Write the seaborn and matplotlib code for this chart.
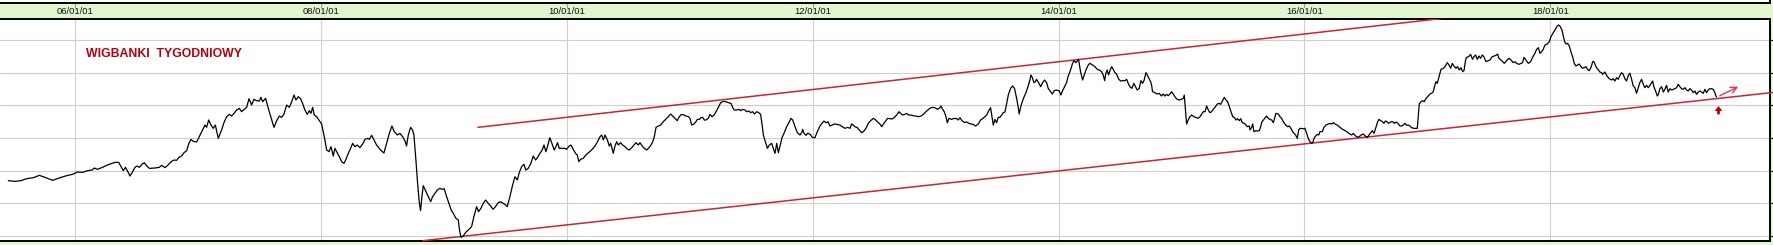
import matplotlib
matplotlib.use("Agg")
import matplotlib.pyplot as plt
import seaborn as sns
import pandas as pd
from matplotlib.lines import Line2D
from matplotlib.patches import Rectangle

# ---------------- data ----------------
years = [
    2005.454, 2005.508, 2005.554, 2005.603, 2005.657, 2005.706, 2005.752, 2005.815, 2005.874, 2005.928,
    2005.977, 2006.015, 2006.059, 2006.097, 2006.135, 2006.154, 2006.178, 2006.213, 2006.248, 2006.276,
    2006.297, 2006.322, 2006.352, 2006.368, 2006.389, 2006.406, 2006.422, 2006.444, 2006.465, 2006.484,
    2006.503, 2006.520, 2006.541, 2006.560, 2006.579, 2006.601, 2006.647, 2006.682, 2006.701, 2006.729,
    2006.756, 2006.783, 2006.802, 2006.823, 2006.842, 2006.864, 2006.883, 2006.905, 2006.921, 2006.940,
    2006.959, 2006.986,
    2007.054, 2007.067, 2007.084, 2007.103, 2007.121, 2007.138, 2007.162, 2007.189, 2007.208, 2007.230,
    2007.252, 2007.271, 2007.290, 2007.311, 2007.333, 2007.352, 2007.374, 2007.393, 2007.412, 2007.433,
    2007.452, 2007.474, 2007.496, 2007.509, 2007.523, 2007.547, 2007.569, 2007.591, 2007.615, 2007.637,
    2007.659, 2007.677, 2007.696, 2007.718, 2007.740, 2007.759, 2007.778, 2007.794, 2007.813, 2007.832,
    2007.848, 2007.867, 2007.886, 2007.903, 2007.916, 2007.930, 2007.943, 2007.962, 2007.981, 2008.003,
    2008.016, 2008.030, 2008.044, 2008.063, 2008.079, 2008.098, 2008.111, 2008.130, 2008.147, 2008.166,
    2008.185, 2008.201, 2008.220, 2008.239, 2008.255, 2008.274, 2008.293, 2008.315, 2008.337, 2008.356,
    2008.377, 2008.391, 2008.410, 2008.429, 2008.450, 2008.472, 2008.491, 2008.510, 2008.532, 2008.554,
    2008.575, 2008.594, 2008.619,
    2008.640, 2008.662, 2008.681, 2008.694, 2008.708, 2008.727, 2008.743, 2008.754, 2008.770, 2008.784,
    2008.797, 2008.808, 2008.819, 2008.830, 2008.849, 2008.871, 2008.890, 2008.906, 2008.925, 2008.944,
    2008.965, 2008.984, 2009.001, 2009.020, 2009.039, 2009.055, 2009.074, 2009.096, 2009.115, 2009.123,
    2009.136, 2009.155, 2009.177, 2009.196, 2009.223, 2009.242, 2009.264, 2009.280, 2009.299, 2009.318,
    2009.337, 2009.359, 2009.378, 2009.399, 2009.421, 2009.440, 2009.459, 2009.481, 2009.502, 2009.513,
    2009.535, 2009.557, 2009.576, 2009.595, 2009.611, 2009.630, 2009.649, 2009.665, 2009.684, 2009.703,
    2009.725, 2009.744, 2009.760, 2009.779, 2009.798, 2009.812, 2009.828, 2009.842, 2009.860, 2009.879,
    2009.896, 2009.909, 2009.923, 2009.936, 2009.958, 2009.983, 2009.996, 2010.018, 2010.031, 2010.050,
    2010.069, 2010.083, 2010.096, 2010.110, 2010.132, 2010.153, 2010.175, 2010.200, 2010.227, 2010.248,
    2010.268, 2010.282, 2010.295, 2010.309, 2010.328, 2010.344, 2010.355, 2010.366, 2010.376, 2010.390,
    2010.404, 2010.417, 2010.436, 2010.452, 2010.471, 2010.490, 2010.507, 2010.526, 2010.545, 2010.561,
    2010.580, 2010.593, 2010.612, 2010.629, 2010.648, 2010.667, 2010.683, 2010.697, 2010.710, 2010.724,
    2010.743, 2010.762, 2010.783, 2010.802, 2010.824, 2010.843, 2010.859, 2010.878, 2010.897, 2010.913,
    2010.927, 2010.946, 2010.968, 2010.987, 2011.000, 2011.014, 2011.033, 2011.049, 2011.060, 2011.076,
    2011.090, 2011.103, 2011.117, 2011.130, 2011.149, 2011.163, 2011.179, 2011.196, 2011.212, 2011.231,
    2011.250, 2011.272, 2011.293, 2011.312, 2011.334, 2011.347, 2011.361, 2011.380, 2011.399, 2011.413,
    2011.429, 2011.448, 2011.461, 2011.480, 2011.494, 2011.510, 2011.524, 2011.543, 2011.559, 2011.575,
    2011.589, 2011.597, 2011.611, 2011.630, 2011.646, 2011.665, 2011.678, 2011.692, 2011.706, 2011.719,
    2011.733, 2011.749, 2011.765, 2011.787, 2011.809, 2011.822, 2011.836, 2011.855, 2011.874,
    2011.895, 2011.909, 2011.917, 2011.928, 2011.944, 2011.957, 2011.976, 2011.995, 2012.017, 2012.036,
    2012.058, 2012.074, 2012.090, 2012.107, 2012.123, 2012.139, 2012.158, 2012.174, 2012.193, 2012.220,
    2012.239, 2012.261, 2012.283, 2012.302, 2012.315, 2012.329, 2012.342, 2012.362, 2012.378, 2012.397,
    2012.416, 2012.432, 2012.451, 2012.470, 2012.492, 2012.511, 2012.527, 2012.546, 2012.560, 2012.578,
    2012.595, 2012.608, 2012.627, 2012.646, 2012.663, 2012.682, 2012.701, 2012.714, 2012.730, 2012.749,
    2012.763, 2012.779, 2012.798, 2012.817, 2012.836, 2012.858, 2012.880, 2012.899, 2012.920, 2012.942,
    2012.961, 2012.980, 2012.999, 2013.015, 2013.029, 2013.042, 2013.056, 2013.069, 2013.083, 2013.094,
    2013.107, 2013.129, 2013.151, 2013.170, 2013.183, 2013.197, 2013.216, 2013.232, 2013.251, 2013.270,
    2013.286, 2013.305, 2013.324, 2013.346, 2013.365, 2013.381, 2013.400, 2013.414, 2013.427, 2013.446,
    2013.457, 2013.468, 2013.482, 2013.495, 2013.509,
    2013.522, 2013.536, 2013.549, 2013.563, 2013.571, 2013.590, 2013.609, 2013.625, 2013.641, 2013.658,
    2013.671, 2013.679, 2013.690, 2013.704, 2013.717, 2013.734, 2013.750, 2013.766, 2013.774, 2013.785,
    2013.799, 2013.810, 2013.820, 2013.837, 2013.853, 2013.869, 2013.885, 2013.902, 2013.915, 2013.929,
    2013.948, 2013.964, 2013.983, 2014.005, 2014.018, 2014.032, 2014.051, 2014.064, 2014.078, 2014.097,
    2014.113, 2014.124, 2014.140, 2014.154, 2014.162, 2014.178, 2014.195, 2014.208, 2014.222, 2014.241,
    2014.254, 2014.276, 2014.295, 2014.314, 2014.330, 2014.349, 2014.363, 2014.374, 2014.384, 2014.395,
    2014.406, 2014.417, 2014.431, 2014.444, 2014.458, 2014.471, 2014.488, 2014.504, 2014.520, 2014.539,
    2014.553, 2014.566, 2014.580, 2014.596, 2014.612, 2014.626, 2014.639, 2014.656, 2014.669, 2014.683,
    2014.696, 2014.710, 2014.721, 2014.734, 2014.748, 2014.756, 2014.764, 2014.783, 2014.802, 2014.818,
    2014.837, 2014.851, 2014.865, 2014.878, 2014.892, 2014.905, 2014.919, 2014.932, 2014.949, 2014.965,
    2014.981, 2015.000, 2015.014, 2015.022, 2015.030, 2015.041, 2015.054, 2015.068, 2015.082, 2015.100,
    2015.122, 2015.136,
    2015.150, 2015.164, 2015.177, 2015.191, 2015.204, 2015.218, 2015.231, 2015.245, 2015.258, 2015.272,
    2015.291, 2015.307, 2015.318, 2015.334, 2015.348, 2015.362, 2015.375, 2015.389, 2015.402, 2015.416,
    2015.429, 2015.443, 2015.456, 2015.470, 2015.481, 2015.494, 2015.511, 2015.524, 2015.535, 2015.551,
    2015.557, 2015.570, 2015.579, 2015.589, 2015.606, 2015.619, 2015.633, 2015.644, 2015.654, 2015.671,
    2015.682, 2015.692, 2015.706, 2015.720, 2015.733, 2015.747, 2015.760, 2015.768, 2015.787, 2015.801,
    2015.814, 2015.828, 2015.847, 2015.863, 2015.877, 2015.890, 2015.904, 2015.915, 2015.928, 2015.942,
    2015.953, 2015.964, 2015.991, 2016.004, 2016.018, 2016.031, 2016.045, 2016.059, 2016.067, 2016.078,
    2016.091, 2016.105, 2016.116, 2016.126, 2016.145, 2016.159, 2016.175, 2016.194, 2016.208, 2016.221,
    2016.235, 2016.248, 2016.267, 2016.289, 2016.311, 2016.332, 2016.351, 2016.370, 2016.384, 2016.398,
    2016.417, 2016.433, 2016.452, 2016.465, 2016.479, 2016.495, 2016.512, 2016.525, 2016.539, 2016.552,
    2016.566, 2016.579, 2016.596, 2016.606, 2016.620, 2016.634, 2016.647, 2016.658, 2016.672, 2016.685,
    2016.701, 2016.718, 2016.731, 2016.745, 2016.761,
    2016.777, 2016.791, 2016.804, 2016.818, 2016.831, 2016.845, 2016.858, 2016.872, 2016.891, 2016.918,
    2016.926, 2016.934, 2016.948, 2016.961, 2016.975, 2016.989, 2017.008, 2017.021, 2017.035, 2017.048,
    2017.059, 2017.070, 2017.081, 2017.092, 2017.102, 2017.111, 2017.130, 2017.143, 2017.162, 2017.176,
    2017.189, 2017.203, 2017.216, 2017.233, 2017.246, 2017.260, 2017.273, 2017.287, 2017.298, 2017.311,
    2017.319, 2017.336, 2017.352, 2017.368, 2017.379, 2017.393, 2017.406, 2017.420, 2017.433, 2017.447,
    2017.460, 2017.477, 2017.496, 2017.509, 2017.528, 2017.545, 2017.563, 2017.572, 2017.583, 2017.599,
    2017.612, 2017.626, 2017.639, 2017.653, 2017.667, 2017.686, 2017.699, 2017.713, 2017.726, 2017.745,
    2017.762, 2017.775, 2017.786, 2017.802, 2017.821, 2017.840, 2017.856, 2017.875, 2017.889, 2017.903,
    2017.916, 2017.930, 2017.943, 2017.957, 2017.976, 2017.992, 2018.006, 2018.025, 2018.041, 2018.057,
    2018.068, 2018.082, 2018.095, 2018.106, 2018.117, 2018.128, 2018.141, 2018.155, 2018.168, 2018.182,
    2018.195, 2018.209, 2018.223, 2018.236, 2018.250, 2018.263, 2018.277, 2018.290, 2018.304, 2018.318,
    2018.334, 2018.345, 2018.355, 2018.366, 2018.380, 2018.393,
    2018.404, 2018.418, 2018.426, 2018.445, 2018.458, 2018.480, 2018.499, 2018.512, 2018.526, 2018.540,
    2018.553, 2018.567, 2018.580, 2018.594, 2018.607, 2018.621, 2018.635, 2018.648, 2018.662, 2018.675,
    2018.689, 2018.702, 2018.716, 2018.729, 2018.743, 2018.757, 2018.770, 2018.784, 2018.797, 2018.811,
    2018.824, 2018.833, 2018.843, 2018.857, 2018.871, 2018.879, 2018.892, 2018.906, 2018.920, 2018.933,
    2018.946, 2018.960, 2018.974, 2018.987, 2019.001, 2019.014, 2019.028, 2019.041, 2019.055, 2019.068,
    2019.082, 2019.096, 2019.109, 2019.123, 2019.136, 2019.150, 2019.163, 2019.177, 2019.190, 2019.204,
    2019.218, 2019.231, 2019.245, 2019.258, 2019.272, 2019.285, 2019.299, 2019.313, 2019.326, 2019.340,
    2019.348, 2019.353,
]

wig = [
    1.694, 1.673, 1.694, 1.755, 1.786, 1.857, 1.796, 1.704, 1.786, 1.847,
    1.888, 1.959, 1.949, 2.000, 2.020, 2.082, 2.041, 2.092, 2.153, 2.194,
    2.224, 2.255, 2.255, 2.143, 2.000, 2.102, 2.000, 1.837, 1.969, 2.102,
    2.143, 2.102, 2.194, 2.245, 2.153, 2.071, 2.082, 2.102, 2.163, 2.092,
    2.184, 2.286, 2.327, 2.316, 2.408, 2.449, 2.551, 2.612, 2.816, 2.959,
    2.898, 2.878,
    3.398, 3.327, 3.551, 3.398, 3.296, 3.398, 2.990, 3.245, 3.469, 3.653,
    3.724, 3.673, 3.755, 3.857, 3.908, 3.806, 3.878, 3.939, 4.204, 4.010,
    4.184, 4.143, 4.133, 4.245, 4.112, 4.214, 3.908, 3.633, 3.327, 3.531,
    3.673, 3.633, 3.724, 4.010, 3.939, 4.102, 4.316, 4.163, 4.265, 4.204,
    4.061, 3.857, 3.724, 3.837, 3.755, 3.939, 3.704, 3.653, 3.551, 3.429,
    3.194, 2.939, 2.633, 2.582, 2.735, 2.449, 2.684, 2.551, 2.429, 2.276,
    2.224, 2.347, 2.531, 2.684, 2.837, 2.735, 2.786, 2.704, 2.816, 2.959,
    2.990, 2.959, 3.082, 2.939, 2.786, 2.684, 2.602, 2.541, 2.837, 3.143,
    3.367, 3.194, 3.092,
    3.143, 3.041, 2.918, 2.755, 3.092, 3.327, 3.245, 3.092, 2.327, 1.612,
    1.051, 0.776, 1.204, 1.541, 1.388, 1.204, 1.051, 1.204, 1.306, 1.408,
    1.459, 1.429, 1.449, 1.204, 1.000, 0.816, 0.694, 0.541, 0.490, 0.235,
    -0.041, 0.000, 0.122, 0.184, 0.286, 0.592, 0.898, 0.745, 0.847, 1.000,
    1.102, 1.000, 0.918, 0.816, 0.918, 1.020, 1.051, 1.000, 0.949, 0.898,
    1.204, 1.561, 1.816, 1.714, 1.939, 2.122, 2.194, 2.020, 2.071, 2.204,
    2.449, 2.327, 2.408, 2.531, 2.633, 2.786, 2.582, 2.755, 3.010, 2.816,
    2.633, 2.735, 2.857, 2.684, 2.684, 2.684, 2.653, 2.755, 2.786, 2.653,
    2.531, 2.480, 2.276, 2.347, 2.378, 2.480, 2.551, 2.633, 2.755, 2.888,
    3.041, 3.092, 2.939, 3.092, 2.939, 2.755, 2.837, 2.684, 2.531, 2.755,
    2.888, 2.786, 2.857, 2.786, 2.735, 2.663, 2.633, 2.704, 2.786, 2.857,
    2.786, 2.857, 2.755, 2.684, 2.633, 2.704, 2.786, 2.888, 3.041, 3.327,
    3.367, 3.398, 3.500, 3.571, 3.653, 3.735, 3.673, 3.602, 3.531, 3.653,
    3.714, 3.714, 3.673, 3.653, 3.602, 3.398, 3.429, 3.500, 3.571, 3.571,
    3.622, 3.633, 3.551, 3.551, 3.602, 3.724, 3.653, 3.704, 3.806, 3.939,
    4.082, 4.122, 4.112, 4.082, 4.061, 3.939, 3.857, 3.857, 3.878, 3.837,
    3.878, 3.857, 3.806, 3.827, 3.776, 3.806, 3.735, 3.806, 3.776, 3.724,
    3.347, 3.092, 2.918, 2.684, 2.786, 2.837, 2.684, 2.531, 2.837, 2.551,
    2.755, 3.010, 3.143, 3.347, 3.500, 3.602, 3.551, 3.347, 3.163,
    3.092, 3.163, 3.265, 3.143, 3.082, 3.143, 3.122, 3.020, 3.010, 3.194,
    3.367, 3.449, 3.520, 3.469, 3.500, 3.367, 3.398, 3.429, 3.418, 3.398,
    3.347, 3.296, 3.327, 3.296, 3.429, 3.398, 3.347, 3.316, 3.245, 3.163,
    3.214, 3.296, 3.449, 3.531, 3.602, 3.551, 3.490, 3.429, 3.347, 3.449,
    3.531, 3.602, 3.592, 3.582, 3.633, 3.704, 3.806, 3.755, 3.704, 3.724,
    3.755, 3.704, 3.704, 3.684, 3.673, 3.653, 3.673, 3.724, 3.806, 3.878,
    3.929, 3.939, 3.918, 3.878, 3.908, 3.980, 3.878, 3.806, 3.653, 3.469,
    3.602, 3.571, 3.602, 3.592, 3.551, 3.622, 3.520, 3.480, 3.490, 3.449,
    3.429, 3.418, 3.367, 3.429, 3.551, 3.592, 3.653, 3.704, 3.806, 3.929,
    3.653, 3.398, 3.571, 3.469, 3.633,
    3.633, 3.704, 3.776, 3.796, 3.939, 4.316, 4.520, 4.592, 4.520, 4.214,
    3.939, 3.735, 3.939, 4.112, 4.245, 4.388, 4.571, 4.776, 4.929, 4.857,
    4.694, 4.724, 4.796, 4.694, 4.571, 4.694, 4.776, 4.694, 4.520, 4.449,
    4.347, 4.449, 4.469, 4.439, 4.316, 4.449, 4.592, 4.694, 4.898, 5.082,
    5.286, 5.367, 5.306, 5.367, 5.408, 5.031, 4.776, 4.929, 5.082, 5.235,
    5.286, 5.235, 5.184, 5.102, 5.082, 5.031, 4.929, 4.755, 4.980, 5.082,
    4.929, 5.061, 5.184, 5.102, 5.000, 4.959, 4.806, 4.745, 4.755, 4.755,
    4.796, 4.673, 4.571, 4.520, 4.673, 4.571, 4.469, 4.520, 4.755, 4.673,
    4.776, 5.000, 4.929, 4.827, 4.724, 4.622, 4.418, 4.388, 4.347, 4.367,
    4.286, 4.347, 4.286, 4.337, 4.296, 4.347, 4.418, 4.347, 4.245, 4.184,
    4.163, 4.184, 4.214, 4.316, 3.959, 3.429, 3.551, 3.653, 3.704, 3.653,
    3.622, 3.602,
    3.653, 3.735, 3.806, 3.806, 3.980, 3.857, 3.776, 3.806, 3.878, 3.939,
    4.041, 4.061, 4.031, 4.143, 4.245, 4.163, 4.112, 3.959, 3.806, 3.653,
    3.633, 3.551, 3.592, 3.531, 3.592, 3.469, 3.449, 3.398, 3.347, 3.367,
    3.245, 3.327, 3.429, 3.194, 3.224, 3.214, 3.224, 3.347, 3.500, 3.571,
    3.633, 3.673, 3.602, 3.571, 3.551, 3.469, 3.653, 3.755, 3.735, 3.653,
    3.602, 3.500, 3.398, 3.347, 3.367, 3.296, 3.194, 3.143, 3.092, 2.990,
    3.245, 3.296, 3.286, 3.296, 3.143, 2.990, 2.888, 2.837, 2.857, 2.990,
    3.061, 3.112, 3.092, 3.194, 3.194, 3.327, 3.398, 3.429, 3.449, 3.429,
    3.469, 3.429, 3.398, 3.327, 3.265, 3.224, 3.173, 3.122, 3.092, 3.143,
    3.061, 3.020, 3.061, 3.102, 3.122, 3.061, 3.020, 3.092, 3.163, 3.224,
    3.143, 3.296, 3.500, 3.571, 3.531, 3.500, 3.449, 3.520, 3.500, 3.449,
    3.490, 3.500, 3.449, 3.490, 3.449,
    3.367, 3.367, 3.398, 3.449, 3.388, 3.398, 3.367, 3.316, 3.296, 3.296,
    3.653, 4.041, 4.112, 4.143, 4.112, 4.214, 4.286, 4.347, 4.367, 4.418,
    4.592, 4.724, 4.673, 4.827, 4.980, 5.102, 5.133, 5.184, 5.306, 5.235,
    5.133, 5.286, 5.204, 5.133, 5.184, 5.082, 5.153, 5.031, 5.061, 5.388,
    5.469, 5.490, 5.561, 5.408, 5.490, 5.541, 5.408, 5.510, 5.439, 5.541,
    5.490, 5.337, 5.367, 5.388, 5.490, 5.510, 5.541, 5.571, 5.439, 5.388,
    5.337, 5.286, 5.337, 5.408, 5.439, 5.367, 5.306, 5.337, 5.286, 5.255,
    5.286, 5.306, 5.469, 5.388, 5.286, 5.337, 5.469, 5.592, 5.714, 5.765,
    5.592, 5.643, 5.714, 5.847, 5.878, 5.949, 6.102, 6.224, 6.327, 6.429,
    6.459, 6.408, 6.306, 6.122, 5.949, 5.878, 5.898, 5.816, 5.643, 5.490,
    5.286, 5.204, 5.235, 5.265, 5.184, 5.133, 5.153, 5.184, 5.102, 5.061,
    5.184, 5.337, 5.337, 5.235, 5.133, 5.082,
    5.020, 5.000, 4.949, 5.020, 4.918, 4.816, 4.776, 4.816, 4.745, 4.847,
    4.796, 4.918, 5.000, 4.949, 4.816, 4.745, 4.918, 4.980, 4.796, 4.592,
    4.541, 4.367, 4.541, 4.694, 4.796, 4.643, 4.541, 4.612, 4.541, 4.612,
    4.694, 4.745, 4.571, 4.439, 4.286, 4.337, 4.510, 4.571, 4.408, 4.490,
    4.612, 4.408, 4.510, 4.469, 4.490, 4.510, 4.541, 4.643, 4.571, 4.510,
    4.490, 4.541, 4.469, 4.439, 4.510, 4.469, 4.388, 4.439, 4.337, 4.408,
    4.439, 4.408, 4.367, 4.490, 4.388, 4.469, 4.510, 4.510, 4.490, 4.388,
    4.286, 4.255,
]

label_years = [2006, 2008, 2010, 2012, 2014, 2016, 2018]
grid_levels = [0, 1, 2, 3, 4, 5, 6]

# trend channel drawn by the author (start / end points)
upper_channel_years = [2009.275, 2017.12]
upper_channel_vals = [3.327, 6.66]
lower_channel_years = [2008.827, 2019.82]
lower_channel_vals = [-0.143, 4.398]

title_text = "WIGBANKI  TYGODNIOWY"
signal_year = 2019.369
signal_tip, signal_base = 3.98, 3.724
hint_start = (2019.380, 4.296)
hint_end = (2019.530, 4.571)

# ---------------- style ----------------
GREEN = "#e2f6d2"
GRID = "#cfcfcf"
CHANNEL = "#cc2336"

sns.set_style("white")
plt.rcParams["font.family"] = ["Liberation Sans", "DejaVu Sans"]

W, H = 1774, 245
fig = plt.figure(figsize=(W / 100, H / 100), dpi=100)
fig.patch.set_facecolor(GREEN)
fig.patches.append(Rectangle((0, 1 - 3.3 / H), 1, 3.3 / H, transform=fig.transFigure,
                             facecolor="white", edgecolor="none", zorder=0))
fig.lines.append(Line2D([0, 1770 / W], [1 - 3.3 / H, 1 - 3.3 / H], transform=fig.transFigure,
                        color="black", lw=1.4))
fig.lines.append(Line2D([1770 / W, 1770 / W], [1 - 3.3 / H, 1], transform=fig.transFigure,
                        color="black", lw=1.4))

ax_bottom_px, ax_top_px = 240.7, 19.0
ax = fig.add_axes([0, (H - ax_bottom_px) / H, 1770 / W, (ax_bottom_px - ax_top_px) / H])
ax.set_facecolor("white")

df = pd.DataFrame({"year": years, "wig": wig})
sns.lineplot(data=df, x="year", y="wig", ax=ax, color="black", lw=0.9,
             sort=False, estimator=None, zorder=4)

# channel lines
sns.lineplot(x=upper_channel_years, y=upper_channel_vals, ax=ax, color=CHANNEL, lw=1.1,
             estimator=None, zorder=3)
sns.lineplot(x=lower_channel_years, y=lower_channel_vals, ax=ax, color=CHANNEL, lw=1.1,
             estimator=None, zorder=3)
ax.lines[-1].set_clip_on(False)

ax.set_xlim(2005.386, 2019.788)
ax.set_ylim(-0.143, 6.643)
ax.set_xticks(label_years)
ax.set_yticks(grid_levels)
ax.grid(True, color=GRID, lw=0.8, zorder=0)
ax.set_axisbelow(True)
ax.tick_params(axis="x", bottom=False, top=False, labelbottom=False)
ax.tick_params(axis="y", left=False, right=True, labelleft=False, labelright=False,
               direction="out", length=3, width=0.8, color="black")
ax.set_xlabel("")
ax.set_ylabel("")
for side in ["top", "bottom", "right"]:
    ax.spines[side].set_visible(True)
    ax.spines[side].set_color("black")
    ax.spines[side].set_linewidth(1.4)
ax.spines["left"].set_visible(False)

# header labels and small ticks
xt = ax.get_xaxis_transform()
lab_y = (ax_bottom_px - 11.7) / (ax_bottom_px - ax_top_px)
tk0 = (ax_bottom_px - 6.7) / (ax_bottom_px - ax_top_px)
tk1 = (ax_bottom_px - 3.3) / (ax_bottom_px - ax_top_px)
for yr in label_years:
    ax.text(yr, lab_y, f"{yr % 100:02d}/01/01", transform=xt, ha="center", va="center",
            fontsize=6.8, color="#111111", clip_on=False)
    ax.plot([yr, yr], [tk0, tk1], transform=xt, color="#9a9a9a", lw=0.8, clip_on=False)

# title
ax.text(2006.085, 5.571, title_text, color="#b3000f", fontsize=8.8, fontweight="bold",
        ha="left", va="center", zorder=5)

# red markers
ax.annotate("", xy=(signal_year, signal_tip), xytext=(signal_year, signal_base),
            arrowprops=dict(arrowstyle="simple,head_length=0.36,head_width=0.55,tail_width=0.2",
                            fc="#c40000", ec="none", mutation_scale=10, shrinkA=0, shrinkB=0),
            zorder=6)
ax.annotate("", xy=hint_end, xytext=hint_start,
            arrowprops=dict(arrowstyle="->,head_length=0.45,head_width=0.22", color="#d2404f",
                            lw=1.0, mutation_scale=10, shrinkA=0, shrinkB=0),
            zorder=6)

fig.savefig("out.png", dpi=100, facecolor=fig.get_facecolor())
